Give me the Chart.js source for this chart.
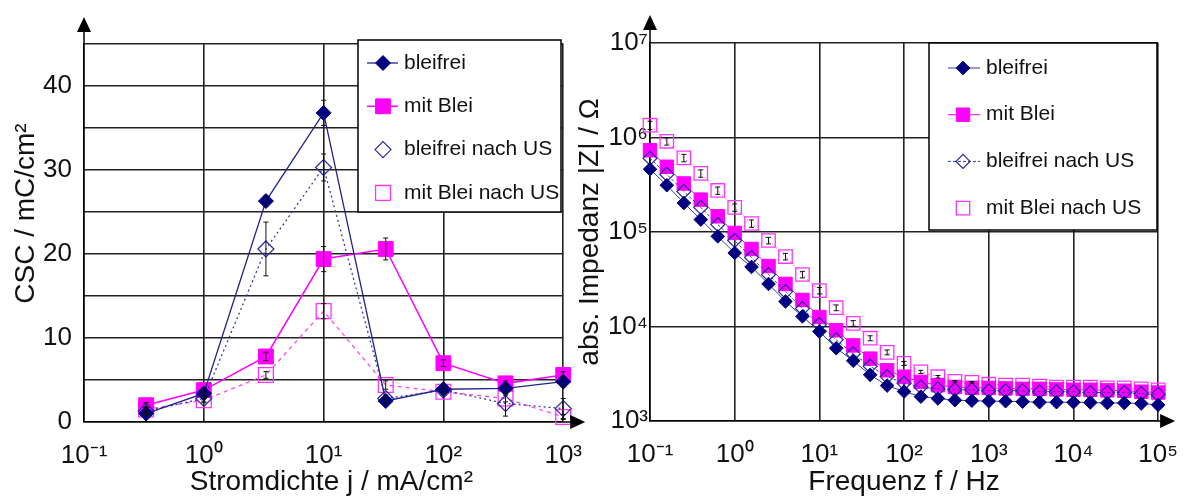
<!DOCTYPE html>
<html>
<head>
<meta charset="utf-8">
<script src="https://cdn.jsdelivr.net/npm/chart.js@4.4.1/dist/chart.umd.min.js"></script>
<style>
  html, body { margin: 0; padding: 0; background: #fff; }
  #wrap { position: relative; width: 1196px; height: 499px; overflow: hidden; }
  #cscChart { position: absolute; left: 0; top: 0; }
  #zChart { position: absolute; left: 560px; top: 0; }
</style>
</head>
<body>
<div id="wrap">
  <canvas id="cscChart" width="600" height="499"></canvas>
  <canvas id="zChart" width="636" height="499"></canvas>
</div>
<script>
// ---- Daten links: CSC über Stromdichte ----
const jValues      = [0.33, 1, 3.3, 10, 33, 100, 330, 1000];
const cscBleifrei   = [1.0, 3.4, 26.3, 36.8, 2.5, 3.9, 4.0, 4.8];
const cscMitBlei    = [2.0, 3.8, 7.8, 19.4, 20.6, 7.0, 4.6, 5.6];
const cscBleifreiUS = [1.3, 2.8, 20.6, 30.3, 2.8, 3.8, 2.2, 1.6];
const cscMitBleiUS  = [1.5, 2.6, 5.6, 13.2, 4.4, 3.6, 2.8, 0.6];
// Fehlerbalken (absolut, mC/cm²)
const errBleifrei   = [0.2, 0.3, 0.6, 1.5, 0.3, 0.4, 0.5, 0.6];
const errMitBlei    = [0.3, 0.3, 0.5, 1.5, 1.3, 0.4, 0.3, 0.4];
const errBleifreiUS = [0.4, 0.4, 3.2, 1.6, 0.4, 0.3, 1.5, 1.2];
const errMitBleiUS  = [0.3, 0.3, 0.4, 0.9, 0.5, 0.3, 0.4, 0.3];
const jTicks      = [0.1, 1, 10, 100, 1000];
const jTickLabels = ['10⁻¹', '10⁰', '10¹', '10²', '10³'];
const cscTicks      = [0, 5, 10, 15, 20, 25, 30, 35, 40, 45];
const cscTickLabels = ['0', '', '10', '', '20', '', '30', '', '40', ''];

// ---- Daten rechts: Impedanz über Frequenz ----
const freq = [0.1, 0.158, 0.251, 0.398, 0.631, 1, 1.58, 2.51, 3.98, 6.31,
              10, 15.8, 25.1, 39.8, 63.1, 100, 158, 251, 398, 631,
              1000, 1580, 2510, 3980, 6310, 10000, 15800, 25100, 39800, 63100, 100000];
const zBleifrei = [461000, 312600, 202800, 135200, 89900, 60000, 42700, 28200, 18400, 12800,
                   8850, 5890, 4340, 3080, 2370, 2050, 1810, 1730, 1660, 1640,
                   1620, 1620, 1600, 1580, 1580, 1580, 1570, 1550, 1550, 1530, 1480];
const zMitBlei = [733000, 490000, 326000, 220000, 146600, 97700, 66100, 43600, 28200, 19100,
                  12600, 9120, 6310, 4570, 3440, 2920, 2590, 2390, 2290, 2240,
                  2240, 2210, 2190, 2190, 2160, 2140, 2140, 2110, 2090, 2040, 2000];
const zBleifreiUS = [603000, 407000, 269000, 182000, 120000, 81300, 53700, 35500, 23400, 15500,
                     10500, 7240, 5130, 3800, 2950, 2510, 2290, 2190, 2140, 2140,
                     2090, 2090, 2090, 2040, 2040, 2040, 2000, 2000, 2000, 1950, 1910];
const zMitBleiUS = [1349000, 912000, 608000, 417000, 275000, 182000, 123000, 81300, 55000, 35500,
                    24000, 15800, 10800, 7520, 5330, 4070, 3310, 2940, 2630, 2570,
                    2450, 2400, 2400, 2340, 2290, 2290, 2290, 2240, 2240, 2190, 2140];
// relative Fehler der Messung "mit Blei nach US"
const zErrMitBleiUS = [0.1, 0.09, 0.09, 0.09, 0.09, 0.09, 0.09, 0.08, 0.08, 0.08,
                       0.08, 0.07, 0.07, 0.06, 0.06, 0.05, 0.04, 0.03, 0.02, 0.02,
                       0, 0, 0, 0, 0, 0, 0, 0, 0, 0, 0];
const fTicks      = [0.1, 1, 10, 100, 1000, 10000, 100000];
const fTickLabels = ['10⁻¹', '10⁰', '10¹', '10²', '10³', '10⁴', '10⁵'];
const zTicks      = [1000, 10000, 100000, 1000000, 10000000];
const zTickLabels = ['10³', '10⁴', '10⁵', '10⁶', '10⁷'];

const FONT = "'Liberation Sans', Arial, sans-serif";
const NAVY = '#000080';
const MAG = '#ff00ff';

const pts = (xs, ys) => xs.map((x, i) => ({ x: x, y: ys[i] }));

// Fehlerbalken
const errorBars = {
  id: 'errorBars',
  afterDatasetsDraw(chart) {
    const ctx = chart.ctx, xs = chart.scales.x, ys = chart.scales.y;
    ctx.save();
    ctx.strokeStyle = '#111';
    ctx.lineWidth = 1;
    chart.data.datasets.forEach(ds => {
      if (!ds.errors) return;
      ds.data.forEach((p, i) => {
        const e = ds.errors[i];
        if (!e) return;
        const lo = ds.relErr ? p.y * (1 - e) : p.y - e;
        const hi = ds.relErr ? p.y * (1 + e) : p.y + e;
        const x = xs.getPixelForValue(p.x);
        const y1 = ys.getPixelForValue(lo), y2 = ys.getPixelForValue(hi);
        ctx.beginPath();
        ctx.moveTo(x, y1); ctx.lineTo(x, y2);
        ctx.moveTo(x - 2.5, y1); ctx.lineTo(x + 2.5, y1);
        ctx.moveTo(x - 2.5, y2); ctx.lineTo(x + 2.5, y2);
        ctx.stroke();
      });
    });
    ctx.restore();
  }
};

// Achsenpfeile
const axisArrows = {
  id: 'axisArrows',
  afterDraw(chart, args, o) {
    const { ctx, chartArea: a } = chart;
    const ty = a.top - o.up, tx = a.right + o.out;
    ctx.save();
    ctx.strokeStyle = '#000'; ctx.fillStyle = '#000'; ctx.lineWidth = 1.5;
    ctx.beginPath(); ctx.moveTo(a.left, a.top); ctx.lineTo(a.left, ty + 10); ctx.stroke();
    ctx.beginPath(); ctx.moveTo(a.left, ty); ctx.lineTo(a.left - 7, ty + 15); ctx.lineTo(a.left + 7, ty + 15); ctx.closePath(); ctx.fill();
    ctx.beginPath(); ctx.moveTo(a.right, a.bottom); ctx.lineTo(tx - 10, a.bottom); ctx.stroke();
    ctx.beginPath(); ctx.moveTo(tx, a.bottom); ctx.lineTo(tx - 15, a.bottom - 7); ctx.lineTo(tx - 15, a.bottom + 7); ctx.closePath(); ctx.fill();
    ctx.restore();
  }
};

function marker(ctx, style, r, x, y) {
  ctx.beginPath();
  if (style === 'rectRot') {
    ctx.moveTo(x - r, y); ctx.lineTo(x, y - r); ctx.lineTo(x + r, y); ctx.lineTo(x, y + r);
  } else {
    const s = r * Math.SQRT1_2;
    ctx.rect(x - s, y - s, 2 * s, 2 * s);
  }
  ctx.closePath();
  ctx.fill();
  ctx.stroke();
}

// Legende im Kasten
const boxLegend = {
  id: 'boxLegend',
  afterDraw(chart, args, o) {
    const ctx = chart.ctx;
    ctx.save();
    ctx.fillStyle = '#fff';
    ctx.fillRect(o.x, o.y, o.w, o.h);
    ctx.strokeStyle = '#000'; ctx.lineWidth = 1.5;
    ctx.strokeRect(o.x, o.y, o.w, o.h);
    chart.data.datasets.forEach((ds, k) => {
      const y = o.y0 + k * o.dy;
      if (o.lines[k]) {
        ctx.strokeStyle = ds.borderColor; ctx.lineWidth = ds.borderWidth;
        ctx.setLineDash(ds.borderDash || []);
        ctx.beginPath(); ctx.moveTo(o.lx1, y); ctx.lineTo(o.lx2, y); ctx.stroke();
        ctx.setLineDash([]);
      }
      ctx.fillStyle = ds.pointBackgroundColor;
      ctx.strokeStyle = ds.pointBorderColor;
      ctx.lineWidth = ds.pointBorderWidth;
      marker(ctx, ds.pointStyle, ds.pointRadius, o.mx, y);
      ctx.fillStyle = '#111';
      ctx.font = '21px ' + FONT;
      ctx.textBaseline = 'middle';
      ctx.textAlign = 'left';
      ctx.fillText(ds.label, o.tx, y);
    });
    ctx.restore();
  }
};

const tickFont = { family: FONT, size: 26 };
const titleFont = { family: FONT, size: 28 };
const gridStyle = { color: '#222', lineWidth: 1.6, drawTicks: false };

// ---- linkes Diagramm ----
new Chart(document.getElementById('cscChart'), {
  type: 'scatter',
  data: {
    datasets: [
      { label: 'bleifrei', data: pts(jValues, cscBleifrei), errors: errBleifrei, showLine: true,
        borderColor: '#23238c', borderWidth: 1.3, pointStyle: 'rectRot', pointRadius: 7.5,
        pointBackgroundColor: NAVY, pointBorderColor: NAVY, pointBorderWidth: 1, order: 0, clip: false },
      { label: 'mit Blei', data: pts(jValues, cscMitBlei), errors: errMitBlei, showLine: true,
        borderColor: MAG, borderWidth: 1.5, pointStyle: 'rect', pointRadius: 10.5,
        pointBackgroundColor: MAG, pointBorderColor: MAG, pointBorderWidth: 1, order: 2, clip: false },
      { label: 'bleifrei nach US', data: pts(jValues, cscBleifreiUS), errors: errBleifreiUS, showLine: true,
        borderColor: '#3a3aa6', borderWidth: 1.3, borderDash: [2, 3], pointStyle: 'rectRot', pointRadius: 8,
        pointBackgroundColor: 'rgba(255,255,255,0)', pointBorderColor: '#2a2a95', pointBorderWidth: 1.2, order: 1, clip: false },
      { label: 'mit Blei nach US', data: pts(jValues, cscMitBleiUS), errors: errMitBleiUS, showLine: true,
        borderColor: '#ff44ff', borderWidth: 1.3, borderDash: [4, 4], pointStyle: 'rect', pointRadius: 10.5,
        pointBackgroundColor: 'rgba(255,255,255,0)', pointBorderColor: '#ff33ff', pointBorderWidth: 1.3, order: 3, clip: false }
    ]
  },
  options: {
    responsive: false,
    animation: false,
    layout: { padding: { left: 0, right: 33, top: 44, bottom: 0 } },
    scales: {
      x: {
        type: 'logarithmic', min: 0.1, max: 1000,
        afterBuildTicks: s => { s.ticks = jTicks.map(v => ({ value: v })); },
        afterFit: s => { s.height = 77; },
        ticks: { font: tickFont, color: '#111', padding: 18, maxRotation: 0, autoSkip: false,
                 callback: (v, i) => jTickLabels[i] },
        grid: gridStyle,
        border: { color: '#000', width: 1.6 },
        title: { display: true, text: '  Stromdichte j / mA/cm²', font: titleFont, color: '#111', padding: { top: 0, bottom: 0 } }
      },
      y: {
        type: 'linear', min: 0, max: 45,
        afterBuildTicks: s => { s.ticks = cscTicks.map(v => ({ value: v })); },
        afterFit: s => { s.width = 84; },
        ticks: { font: tickFont, color: '#111', padding: 12, callback: (v, i) => cscTickLabels[i] },
        grid: gridStyle,
        border: { color: '#000', width: 1.6 },
        title: { display: true, text: '     CSC / mC/cm²', font: titleFont, color: '#111', padding: { top: 9, bottom: 0 } }
      }
    },
    plugins: {
      legend: { display: false },
      tooltip: { enabled: false },
      axisArrows: { up: 27, out: 22 },
      boxLegend: { x: 358, y: 40, w: 203, h: 172, y0: 63, dy: 43.3, lx1: 367, lx2: 398, mx: 383, tx: 404,
                   lines: [true, true, false, false] }
    }
  },
  plugins: [errorBars, axisArrows, boxLegend]
});

// ---- rechtes Diagramm ----
new Chart(document.getElementById('zChart'), {
  type: 'scatter',
  data: {
    datasets: [
      { label: 'bleifrei', data: pts(freq, zBleifrei), showLine: true,
        borderColor: '#3a3aa0', borderWidth: 1, pointStyle: 'rectRot', pointRadius: 6.8,
        pointBackgroundColor: NAVY, pointBorderColor: NAVY, pointBorderWidth: 1, order: 0, clip: false },
      { label: 'mit Blei', data: pts(freq, zMitBlei), showLine: true,
        borderColor: MAG, borderWidth: 1, pointStyle: 'rect', pointRadius: 9.5,
        pointBackgroundColor: MAG, pointBorderColor: MAG, pointBorderWidth: 1, order: 2, clip: false },
      { label: 'bleifrei nach US', data: pts(freq, zBleifreiUS), showLine: true,
        borderColor: '#3a3aa6', borderWidth: 1, borderDash: [3, 2], pointStyle: 'rectRot', pointRadius: 7,
        pointBackgroundColor: 'rgba(255,255,255,0)', pointBorderColor: '#2a2a95', pointBorderWidth: 1.2, order: 1, clip: false },
      { label: 'mit Blei nach US', data: pts(freq, zMitBleiUS), errors: zErrMitBleiUS, relErr: true, showLine: true,
        borderColor: '#ff55ff', borderWidth: 1, borderDash: [2, 3], pointStyle: 'rect', pointRadius: 9.5,
        pointBackgroundColor: 'rgba(255,255,255,0)', pointBorderColor: '#ff33ff', pointBorderWidth: 1.3, order: 3, clip: false }
    ]
  },
  options: {
    responsive: false,
    animation: false,
    layout: { padding: { left: 0, right: 20, top: 43, bottom: 0 } },
    scales: {
      x: {
        type: 'logarithmic', min: 0.1, max: 100000,
        afterBuildTicks: s => { s.ticks = fTicks.map(v => ({ value: v })); },
        afterFit: s => { s.height = 78; },
        ticks: { font: tickFont, color: '#111', padding: 18, maxRotation: 0, autoSkip: false,
                 callback: (v, i) => fTickLabels[i] },
        grid: gridStyle,
        border: { color: '#000', width: 1.6 },
        title: { display: true, text: 'Frequenz f / Hz', font: titleFont, color: '#111', padding: { top: 0, bottom: 0 } }
      },
      y: {
        type: 'logarithmic', min: 1000, max: 10000000,
        afterBuildTicks: s => { s.ticks = zTicks.map(v => ({ value: v })); },
        afterFit: s => { s.width = 90; },
        ticks: { font: tickFont, color: '#111', padding: 2, callback: (v, i) => zTickLabels[i] },
        grid: gridStyle,
        border: { color: '#000', width: 1.6 },
        title: { display: true, text: 'abs. Impedanz |Z| / Ω', font: titleFont, color: '#111', padding: { top: 13, bottom: 0 } }
      }
    },
    plugins: {
      legend: { display: false },
      tooltip: { enabled: false },
      axisArrows: { up: 28, out: 17 },
      boxLegend: { x: 369, y: 43, w: 228, h: 187, y0: 68, dy: 46.7, lx1: 388, lx2: 420, mx: 403, tx: 426,
                   lines: [true, true, true, false] }
    }
  },
  plugins: [errorBars, axisArrows, boxLegend]
});
</script>
</body>
</html>
